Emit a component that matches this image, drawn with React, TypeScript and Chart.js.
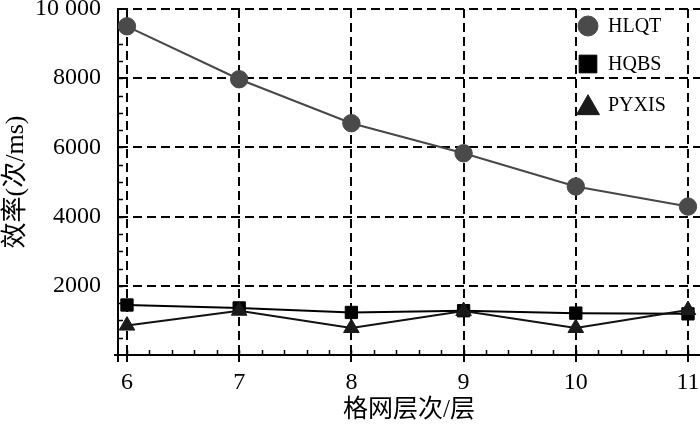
import React, { useEffect, useRef } from "react";
import { Chart, registerables } from "chart.js";
import { drawPoint } from "chart.js/helpers";

Chart.register(...registerables);

const layers = [6, 7, 8, 9, 10, 11];
const hlqt = [9500, 7970, 6700, 5830, 4870, 4290];
const hqbs = [1445, 1360, 1230, 1280, 1210, 1190];
const pyxis = [850, 1280, 780, 1270, 780, 1300];
const yTicks = [2000, 4000, 6000, 8000, 10000];
const seriesNames = ["HLQT", "HQBS", "PYXIS"];
const xTitle = "格网层次/层";
const yTitle = "效率(次/ms)";

const SERIF = "'Liberation Serif', 'Times New Roman', serif";
const MIXED = "'Liberation Serif', 'Noto Sans CJK SC', serif";

const minorTicks = {
  id: "minorTicks",
  beforeDatasetsDraw(chart: any) {
    const { ctx, chartArea, scales } = chart;
    const x = scales.x;
    const y = scales.y;
    ctx.save();
    ctx.strokeStyle = "#000";
    ctx.lineWidth = 1.5;
    ctx.beginPath();
    for (let v = 500; v < 10000; v += 500) {
      const py = Math.round(y.getPixelForValue(v)) + 0.5;
      ctx.moveTo(chartArea.left, py);
      ctx.lineTo(chartArea.left + 5, py);
    }
    for (let i = 0; i <= 25; i++) {
      const v = 6 + i * 0.2;
      const px = Math.round(x.getPixelForValue(v)) + 0.5;
      ctx.moveTo(px, chartArea.bottom);
      ctx.lineTo(px, chartArea.bottom - 5);
    }
    ctx.stroke();
    ctx.lineWidth = 2;
    ctx.beginPath();
    ctx.moveTo(chartArea.left, chartArea.bottom);
    ctx.lineTo(chartArea.left, chartArea.bottom + 7);
    ctx.moveTo(chartArea.left - 4, chartArea.bottom);
    ctx.lineTo(chartArea.left, chartArea.bottom);
    ctx.stroke();
    ctx.restore();
  },
};

const innerLegend = {
  id: "innerLegend",
  afterDraw(chart: any) {
    const { ctx, chartArea } = chart;
    const mx = chartArea.right - 112;
    const tx = chartArea.right - 92;
    const rows = [17, 55, 96];
    const radii = [10, 12.5, 13.3];
    const offs = [0, 0, 3];
    ctx.save();
    chart.data.datasets.forEach((ds: any) => {
      const idx = seriesNames.indexOf(ds.label);
      const yy = chartArea.top + rows[idx];
      ctx.fillStyle = ds.pointBackgroundColor;
      ctx.strokeStyle = ds.pointBorderColor;
      drawPoint(
        ctx,
        { pointStyle: ds.pointStyle, radius: radii[idx], rotation: 0, borderWidth: 1 },
        mx,
        yy + offs[idx]
      );
      ctx.fillStyle = "#000";
      ctx.font = `20px ${SERIF}`;
      ctx.textBaseline = "middle";
      ctx.textAlign = "left";
      ctx.fillText(ds.label, tx, yy + 1);
    });
    ctx.restore();
  },
};

export default function App() {
  const ref = useRef<HTMLCanvasElement>(null);
  useEffect(() => {
    document.body.style.margin = "0";
    const chart = new Chart(ref.current!, {
      type: "line",
      data: {
        labels: layers,
        datasets: [
          {
            label: seriesNames[0],
            data: layers.map((x, i) => ({ x, y: hlqt[i] })),
            borderColor: "#474747",
            borderWidth: 2,
            pointStyle: "circle",
            pointRadius: 8.7,
            pointBackgroundColor: "#4a4a4a",
            pointBorderColor: "#4a4a4a",
            pointBorderWidth: 1,
            order: 2,
          },
          {
            label: seriesNames[1],
            data: layers.map((x, i) => ({ x, y: hqbs[i] })),
            borderColor: "#000",
            borderWidth: 2,
            pointStyle: "rect",
            pointRadius: 8.7,
            pointBackgroundColor: "#000",
            pointBorderColor: "#000",
            pointBorderWidth: 1,
            order: 1,
          },
          {
            label: seriesNames[2],
            data: layers.map((x, i) => ({ x, y: pyxis[i] })),
            borderColor: "#111",
            borderWidth: 2,
            pointStyle: "triangle",
            pointRadius: 9,
            pointBackgroundColor: "#1a1a1a",
            pointBorderColor: "#1a1a1a",
            pointBorderWidth: 1,
            order: 0,
          },
        ],
      },
      options: {
        animation: false,
        responsive: false,
        layout: { autoPadding: false, padding: { top: 9, left: 0, right: 0, bottom: 0 } },
        plugins: { legend: { display: false }, tooltip: { enabled: false } },
        elements: { line: { tension: 0 } },
        scales: {
          x: {
            type: "linear",
            min: 5.92,
            max: 11.107,
            afterBuildTicks: (s: any) => {
              s.ticks = layers.map((v) => ({ value: v }));
            },
            afterFit: (s: any) => {
              s.height = 73;
              s.paddingLeft = 0;
              s.paddingRight = 0;
            },
            grid: { color: "#000", lineWidth: 2, drawTicks: true, tickLength: 7 },
            border: { display: true, color: "#000", width: 2, dash: [9, 5] },
            ticks: {
              color: "#000",
              font: { family: SERIF, size: 24 },
              padding: 6,
              maxRotation: 0,
              callback: (v: any) => String(v),
            },
            title: {
              display: true,
              text: xTitle,
              color: "#000",
              font: { family: MIXED, size: 25 },
              padding: { top: 0, bottom: 3 },
            },
          },
          y: {
            type: "linear",
            min: 0,
            max: 10000,
            afterBuildTicks: (s: any) => {
              s.ticks = yTicks.map((v) => ({ value: v }));
            },
            afterFit: (s: any) => {
              s.width = 118;
              s.paddingTop = 0;
              s.paddingBottom = 0;
            },
            grid: { color: "#000", lineWidth: 2, drawTicks: false },
            border: { display: true, color: "#000", width: 2, dash: [9, 5] },
            ticks: {
              color: "#000",
              font: { family: SERIF, size: 24 },
              padding: 17,
              callback: (v: any) => (v >= 10000 ? "10 000" : String(v)),
            },
            title: {
              display: true,
              text: yTitle,
              color: "#000",
              font: { family: MIXED, size: 26 },
              padding: { top: 1, bottom: 0 },
            },
          },
        },
      },
      plugins: [minorTicks, innerLegend],
    } as any);
    return () => chart.destroy();
  }, []);
  return (
    <div style={{ position: "fixed", left: 0, top: 0, width: 700, height: 428, background: "#fff" }}>
      <canvas ref={ref} width={700} height={428} style={{ width: 700, height: 428, display: "block" }} />
    </div>
  );
}
